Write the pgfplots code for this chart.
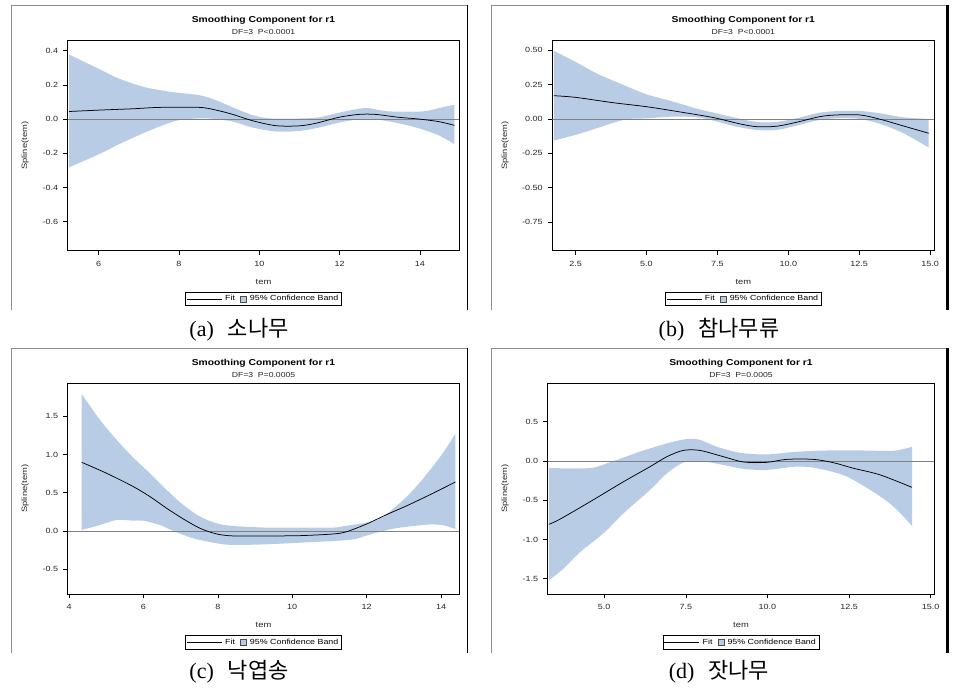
\documentclass[border=0pt]{standalone}
\usepackage{pgfplots}
\pgfplotsset{compat=1.18}
\usepgfplotslibrary{fillbetween}
\usepackage{fontspec}
\setmainfont{Liberation Sans}[FakeStretch=1.2]
\newfontfamily\capfont{Liberation Serif}
\newfontfamily\cjk{Noto Sans CJK KR}
\definecolor{bandcol}{RGB}{184,204,230}
\definecolor{framegray}{RGB}{140,140,140}
\pgfplotsset{
  sasaxis/.style={
    scale only axis, anchor=south west,
    axis line style={black, line width=0.7pt},
    tick align=outside, major tick length=4.5pt,
    tick style={black, line width=0.6pt},
    xtick pos=bottom, ytick pos=left,
    ticklabel style={font=\fontsize{7.5}{8}\selectfont, text=black!85, inner sep=0pt},
    xticklabel style={anchor=center}, xticklabel shift=8.8pt,
    yticklabel style={anchor=east}, yticklabel shift=4.9pt,
    xlabel={tem}, ylabel={Spline(tem)},
    label style={font=\fontsize{7.8}{8}\selectfont, text=black!85},
    xlabel style={at={(axis description cs:0.5,0)}, anchor=center, yshift=-31pt},
    legend columns=2,
    legend style={at={(0.5,0)}, anchor=north, yshift=-41.3pt, draw=black, line width=0.5pt,
      font=\fontsize{7.4}{8}\selectfont, inner sep=1.2pt, row sep=0pt,
      /tikz/every odd column/.append style={column sep=1pt},
      /tikz/every even column/.append style={column sep=3pt}},
    legend cell align=left,
    legend entries={Fit, 95\% Confidence Band},
  },
  fitline/.style={black, line width=0.75pt, smooth, tension=0.5},
  zeroline/.style={gray, line width=0.5pt},
  bandedge/.style={draw=none, smooth, tension=0.5},
}
\newcommand{\legimages}{%
  \addlegendimage{legend image code/.code={\draw[black, line width=0.5pt] (0pt,0pt) -- (35pt,0pt);}}
  \addlegendimage{legend image code/.code={\draw[fill=bandcol, draw=black!70, line width=0.5pt] (0pt,-3pt) rectangle (6.5pt,3pt);}}
}
\begin{document}
\begin{tikzpicture}
\path (0pt,0pt) rectangle (961pt,693pt);
% frames
\draw[framegray, line width=0.8pt] (11pt,383pt) -- (11pt,688pt) -- (467pt,688pt);
\draw[black, line width=0.8pt] (467pt,688pt) -- (467pt,383pt);
\draw[framegray, line width=0.8pt] (491.5pt,383pt) -- (491.5pt,688pt) -- (947pt,688pt);
\draw[black, line width=2.5pt] (947.5pt,688pt) -- (947.5pt,383pt);
\draw[framegray, line width=0.8pt] (11pt,40pt) -- (11pt,344.7pt) -- (467pt,344.7pt);
\draw[black, line width=0.8pt] (467pt,344.7pt) -- (467pt,40pt);
\draw[framegray, line width=0.8pt] (491.5pt,40pt) -- (491.5pt,344.7pt) -- (947pt,344.7pt);
\draw[black, line width=2.5pt] (947.5pt,344.7pt) -- (947.5pt,40pt);

% ---------------- (a)
\begin{axis}[sasaxis, at={(67.7pt,442.3pt)}, width=391.6pt, height=210pt,
  xmin=5.23, xmax=14.98, ymin=-0.770, ymax=0.458,
  xtick={6,8,10,12,14}, xticklabels={6,8,10,12,14},
  ytick={-0.6,-0.4,-0.2,0,0.2,0.4}, yticklabels={-0.6,-0.4,-0.2,0.0,0.2,0.4},
  ylabel style={at={(axis description cs:-0.109,0.5)}, anchor=center}]
\legimages
\addplot[bandedge, name path=Ua] coordinates {(5.264,0.377) (6.0,0.294) (6.529,0.234) (7.190,0.184) (7.851,0.157) (8.512,0.139) (8.926,0.110) (9.339,0.068) (9.835,0.023) (10.248,0.004) (10.992,0.003) (11.488,0.010) (11.983,0.037) (12.479,0.060) (12.727,0.064) (13.140,0.046) (13.719,0.043) (14.132,0.046) (14.545,0.068) (14.860,0.083)};
\addplot[bandedge, name path=La] coordinates {(5.264,-0.282) (6.0,-0.207) (6.529,-0.145) (7.190,-0.075) (7.686,-0.029) (8.017,-0.006) (8.512,0.004) (8.926,0.0) (9.339,-0.015) (9.835,-0.050) (10.413,-0.073) (10.992,-0.070) (11.488,-0.050) (11.983,-0.021) (12.479,-0.002) (12.893,-0.002) (13.471,-0.025) (13.967,-0.054) (14.463,-0.095) (14.860,-0.147)};
\addplot[bandcol] fill between[of=Ua and La];
\addplot[zeroline] coordinates {(5.23,0) (14.98,0)};
\addplot[fitline] coordinates {(5.264,0.044) (6.0,0.052) (6.860,0.060) (7.521,0.068) (8.512,0.068) (8.926,0.052) (9.339,0.027) (9.835,-0.010) (10.413,-0.039) (10.992,-0.040) (11.405,-0.025) (11.983,0.010) (12.479,0.027) (12.893,0.027) (13.471,0.010) (13.967,0.0) (14.463,-0.015) (14.860,-0.037)};
\end{axis}

% ---------------- (b)
\begin{axis}[sasaxis, at={(552.3pt,442.3pt)}, width=382pt, height=210pt,
  xmin=1.68, xmax=15.15, ymin=-0.958, ymax=0.569,
  xtick={2.5,5,7.5,10,12.5,15}, xticklabels={2.5,5.0,7.5,10.0,12.5,15.0},
  ytick={-0.75,-0.5,-0.25,0,0.25,0.5}, yticklabels={-0.75,-0.50,-0.25,0.00,0.25,0.50},
  ylabel style={at={(axis description cs:-0.1238,0.5)}, anchor=center}]
\legimages
\addplot[bandedge, name path=Ub] coordinates {(1.736,0.495) (2.5,0.415) (3.241,0.331) (4.064,0.258) (5.005,0.179) (5.945,0.126) (6.769,0.075) (7.357,0.046) (8.062,0.012) (8.885,-0.022) (9.591,-0.022) (10.296,0.005) (11.120,0.046) (11.825,0.058) (12.531,0.058) (13.236,0.041) (14.059,0.012) (14.953,0.0)};
\addplot[bandedge, name path=Lb] coordinates {(1.736,-0.157) (2.5,-0.116) (3.241,-0.068) (4.064,-0.014) (4.534,0.002) (5.005,0.004) (5.945,0.017) (6.769,0.012) (7.357,-0.012) (8.062,-0.051) (8.885,-0.080) (9.591,-0.080) (10.296,-0.048) (11.120,-0.007) (11.825,0.005) (12.531,0.0) (13.236,-0.036) (14.059,-0.104) (14.953,-0.208)};
\addplot[bandcol] fill between[of=Ub and Lb];
\addplot[zeroline] coordinates {(1.68,0) (15.15,0)};
\addplot[fitline] coordinates {(1.736,0.169) (2.5,0.157) (3.829,0.118) (5.005,0.089) (6.181,0.051) (7.357,0.010) (8.297,-0.036) (8.885,-0.056) (9.591,-0.053) (10.296,-0.024) (11.120,0.017) (11.707,0.029) (12.531,0.029) (13.236,-0.002) (14.059,-0.051) (14.953,-0.104)};
\end{axis}

% ---------------- (c)
\begin{axis}[sasaxis, at={(67.7pt,99pt)}, width=391.6pt, height=210.7pt,
  xmin=3.965, xmax=14.49, ymin=-0.824, ymax=1.931,
  xtick={4,6,8,10,12,14}, xticklabels={4,6,8,10,12,14},
  ytick={-0.5,0,0.5,1,1.5}, yticklabels={-0.5,0.0,0.5,1.0,1.5},
  ylabel style={at={(axis description cs:-0.109,0.5)}, anchor=center}]
\legimages
\addplot[bandedge, name path=Uc] coordinates {(4.34,1.792) (4.833,1.452) (5.281,1.190) (5.729,0.959) (6.177,0.754) (6.625,0.536) (7.073,0.340) (7.522,0.188) (7.970,0.100) (8.418,0.065) (9.314,0.044) (10.210,0.044) (11.106,0.044) (11.464,0.070) (12.002,0.110) (12.36,0.160) (12.81,0.330) (13.26,0.540) (13.71,0.800) (14.05,1.020) (14.385,1.270)};
\addplot[bandedge, name path=Lc] coordinates {(4.34,0.013) (4.833,0.078) (5.281,0.144) (5.729,0.135) (5.998,0.135) (6.446,0.078) (6.805,0.0) (7.342,-0.096) (7.970,-0.161) (8.418,-0.183) (9.314,-0.174) (10.210,-0.153) (11.106,-0.131) (11.643,-0.109) (12.002,-0.060) (12.36,-0.010) (12.72,0.030) (13.17,0.060) (13.70,0.085) (14.06,0.075) (14.385,0.025)};
\addplot[bandcol] fill between[of=Uc and Lc];
\addplot[zeroline] coordinates {(3.965,0) (14.49,0)};
\addplot[fitline] coordinates {(4.34,0.898) (5.013,0.754) (5.729,0.580) (6.177,0.449) (6.625,0.297) (7.073,0.157) (7.522,0.035) (7.970,-0.039) (8.418,-0.065) (9.314,-0.065) (10.210,-0.061) (11.106,-0.039) (11.464,-0.009) (12.002,0.092) (12.54,0.215) (13.08,0.330) (13.79,0.495) (14.385,0.641)};
\end{axis}

% ---------------- (d)
\begin{axis}[sasaxis, at={(547.7pt,99pt)}, width=386.6pt, height=210.7pt,
  xmin=3.27, xmax=15.11, ymin=-1.694, ymax=0.99,
  xtick={5,7.5,10,12.5,15}, xticklabels={5.0,7.5,10.0,12.5,15.0},
  ytick={-1.5,-1,-0.5,0,0.5}, yticklabels={-1.5,-1.0,-0.5,0.0,0.5},
  ylabel style={at={(axis description cs:-0.1104,0.5)}, anchor=center}]
\legimages
\addplot[bandedge, name path=Ud] coordinates {(3.304,-0.090) (4.561,-0.090) (5.08,-0.030) (6.10,0.119) (6.92,0.225) (7.53,0.280) (7.93,0.270) (8.45,0.182) (9.16,0.105) (9.974,0.084) (10.894,0.118) (11.813,0.134) (12.937,0.134) (13.856,0.130) (14.428,0.181)};
\addplot[bandedge, name path=Ld] coordinates {(3.304,-1.521) (3.744,-1.374) (4.254,-1.164) (5.0,-0.912) (5.59,-0.667) (6.40,-0.370) (6.92,-0.157) (7.42,-0.020) (7.93,0.0) (8.65,-0.050) (9.26,-0.100) (9.974,-0.113) (10.894,-0.071) (11.507,-0.092) (12.426,-0.197) (13.447,-0.450) (13.958,-0.618) (14.428,-0.828)};
\addplot[bandcol] fill between[of=Ud and Ld];
\addplot[zeroline] coordinates {(3.27,0) (15.11,0)};
\addplot[fitline] coordinates {(3.304,-0.807) (3.65,-0.740) (4.57,-0.518) (5.59,-0.264) (6.40,-0.073) (6.92,0.055) (7.42,0.135) (7.93,0.135) (8.65,0.055) (9.259,-0.012) (9.974,-0.017) (10.587,0.021) (11.404,0.021) (12.017,-0.021) (12.630,-0.092) (13.447,-0.176) (14.428,-0.336)};
\end{axis}

% titles
\tikzset{ttl/.style={font=\fontsize{8.6}{9}\selectfont\bfseries, inner sep=0pt},
         subt/.style={font=\fontsize{7.2}{8}\selectfont, text=black!85, inner sep=0pt},
         capt/.style={font=\fontsize{22}{24}\selectfont, inner sep=0pt}}
\node[ttl] at (263.5pt,673pt) {Smoothing Component for r1};
\node[subt] at (263.5pt,661pt) {DF=3\ \ P<0.0001};
\node[ttl] at (743.3pt,673pt) {Smoothing Component for r1};
\node[subt] at (743.3pt,661pt) {DF=3\ \ P<0.0001};
\node[ttl] at (263.5pt,329.7pt) {Smoothing Component for r1};
\node[subt] at (263.5pt,317.7pt) {DF=3\ \ P=0.0005};
\node[ttl] at (741pt,329.7pt) {Smoothing Component for r1};
\node[subt] at (741pt,317.7pt) {DF=3\ \ P=0.0005};
% captions
\node[capt] at (239pt,363pt) {\capfont(a)\hspace{14pt}\cjk 소나무};
\node[capt] at (719pt,363pt) {\capfont(b)\hspace{14pt}\cjk 참나무류};
\node[capt] at (239pt,21pt) {\capfont(c)\hspace{14pt}\cjk 낙엽송};
\node[capt] at (719pt,21pt) {\capfont(d)\hspace{14pt}\cjk 잣나무};
\end{tikzpicture}
\end{document}
